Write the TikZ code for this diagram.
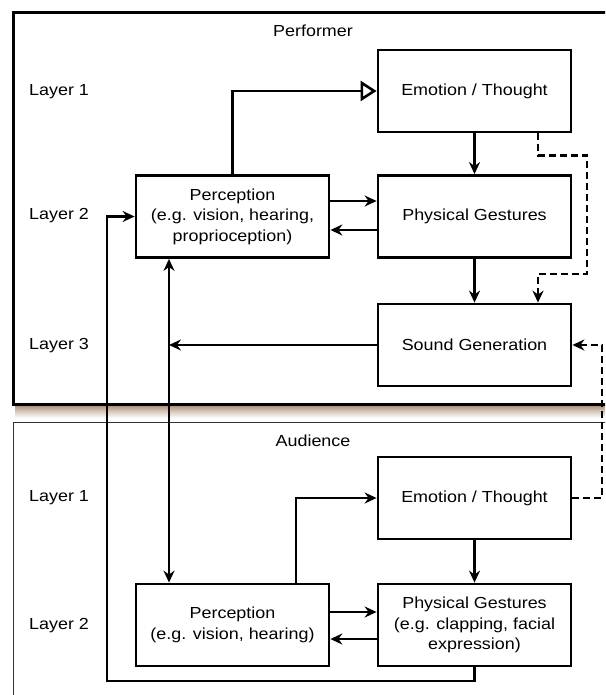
\documentclass[tikz,border=0pt]{standalone}
\usepackage{fontspec}
\setmainfont{Liberation Sans}[FakeStretch=1.12]
\usetikzlibrary{arrows.meta,calc}
\definecolor{shadowbrown}{RGB}{170,140,115}
\begin{document}
\begin{tikzpicture}[x=1pt,y=-1pt,
  ln/.style={line width=2.6pt},
  arr/.style={ln,-{Stealth[length=12pt,width=11pt,inset=4pt]}},
  darr/.style={ln,{Stealth[length=12pt,width=11pt,inset=4pt]}-{Stealth[length=12pt,width=11pt,inset=4pt]}},
  tarr/.style={ln,-{Triangle[open,length=16pt,width=20pt]}},
  dsh/.style={dash pattern=on 7pt off 4pt},
  blk/.style={draw,line width=2.8pt,fill=white,minimum width=193pt,minimum height=82pt,
    align=center,inner sep=0pt,font=\fontsize{16}{20.5}\selectfont},
  lbl/.style={font=\fontsize{16}{20.5}\selectfont,inner sep=0pt},
  every node/.style={text=black}]
\useasboundingbox (0,0) rectangle (605,695);
\clip (0,0) rectangle (605,695);
% panels
\shade[top color=shadowbrown,bottom color=white,middle color=shadowbrown!45] (15,405) rectangle (620,418);
\draw[line width=3pt] (13,13) rectangle (625,404);
\draw[line width=0.9pt,draw=black!80] (13,422) rectangle (625,720);
\node[lbl] (tp) at (313,31) {Performer};
\node[lbl] (ta) at (313,441) {Audience};
\node[lbl,anchor=west] (l1) at (29,92) {Layer 1};
\node[lbl,anchor=west] (l2) at (29,216) {Layer 2};
\node[lbl,anchor=west] (l3) at (29,346) {Layer 3};
\node[lbl,anchor=west] (al1) at (29,498) {Layer 1};
\node[lbl,anchor=west] (al2) at (29,626) {Layer 2};
% performer blocks
\node[blk] (pE) at (474.5,91) {Emotion / Thought};
\node[blk] (pG) at (474.5,216.5) {Physical Gestures};
\node[blk] (pP) at (232.5,216.5) {Perception\\(e.g. vision, hearing,\\proprioception)};
\node[blk] (pS) at (474.5,345) {Sound Generation};
% audience blocks
\node[blk] (aE) at (474.5,498) {Emotion / Thought};
\node[blk] (aP) at (232.5,625) {Perception\\(e.g. vision, hearing)};
\node[blk] (aG) at (474.5,625) {Physical Gestures\\(e.g. clapping, facial\\expression)};
% helper coordinates
\coordinate (vx) at (169,0);
\coordinate (lp) at (107,681);
\coordinate (dr) at (602,0);
% performer connectors
\draw[tarr] (pP.north) |- (pE.west);
\draw[arr] (pE.south) -- (pG.north);
\draw[arr] ([yshift=15.5pt]pP.east) -- ([yshift=15.5pt]pG.west);
\draw[arr] ([yshift=-13.5pt]pG.west) -- ([yshift=-13.5pt]pP.east);
\draw[arr] (pG.south) -- (pS.north);
\draw[arr,dsh] ([xshift=63.5pt]pE.south) -- ++(0,22) -| (587,274) -| ([xshift=63.5pt]pS.north);
\draw[arr] (pS.west) -- (pS.west -| vx);
% between
\draw[darr] ([xshift=-63.5pt]pP.south) -- ([xshift=-63.5pt]aP.north);
\draw[arr] (aG.south) |- (lp) |- (pP.west);
% audience connectors
\draw[arr] ([xshift=63.5pt]aP.north) |- (aE.west);
\draw[arr] (aE.south) -- (aG.north);
\draw[arr] ([yshift=13pt]aP.east) -- ([yshift=13pt]aG.west);
\draw[arr] ([yshift=-14pt]aG.west) -- ([yshift=-14pt]aP.east);
\draw[arr,dsh] (aE.east) -| (dr |- pS.east) -- (pS.east);
\end{tikzpicture}
\end{document}
